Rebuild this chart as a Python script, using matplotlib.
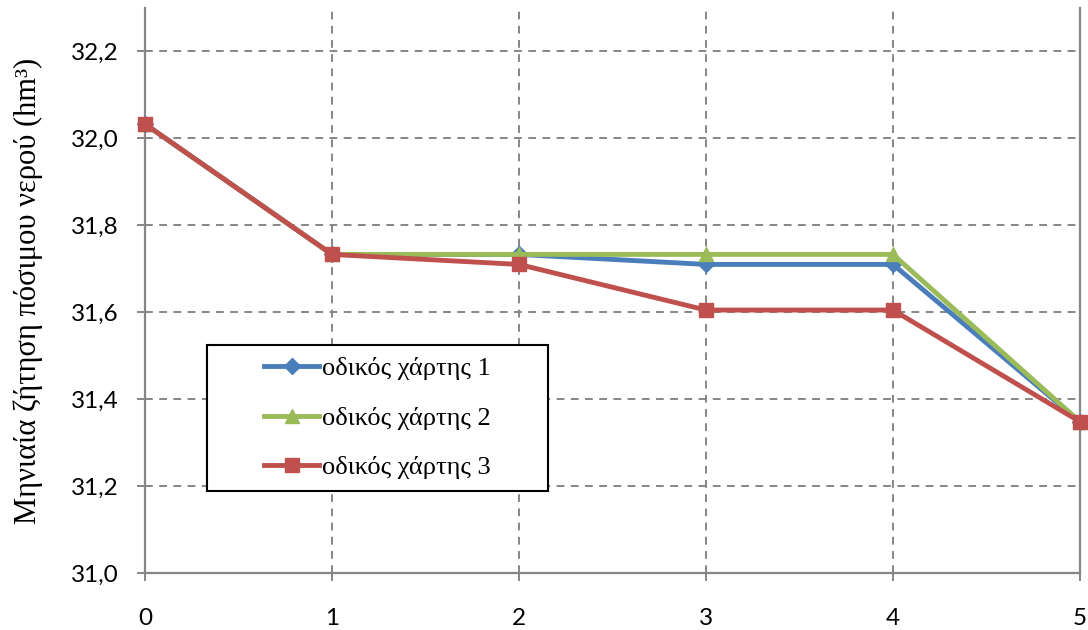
import matplotlib
matplotlib.use("Agg")
import matplotlib.pyplot as plt
from matplotlib.patches import Rectangle

# Data
steps = [0, 1, 2, 3, 4, 5]
series_names = ['οδικός χάρτης 1', 'οδικός χάρτης 2', 'οδικός χάρτης 3']
map1 = [32.033, 31.733, 31.733, 31.710, 31.710, 31.348]
map2 = [32.033, 31.733, 31.733, 31.733, 31.733, 31.348]
map3 = [32.033, 31.733, 31.710, 31.605, 31.605, 31.348]
y_ticks = [31.0, 31.2, 31.4, 31.6, 31.8, 32.0, 32.2]

colors = ['#4A7EBB', '#9BBB59', '#C0504D']
markers = ['D', '^', 's']
msizes = [8.5, 10.5, 10.5]

fig = plt.figure(figsize=(10.88, 6.3), dpi=100)
ax = fig.add_axes([145 / 1088, 1 - 573 / 630, 935 / 1088, 565 / 630])

for vals, name, c, m, ms in zip([map1, map2, map3], series_names, colors, markers, msizes):
    ax.plot(steps, vals, color=c, lw=3.5, marker=m, markersize=ms,
            markeredgecolor=c, label=name, clip_on=False, zorder=3)

ax.set_xlim(0, 5)
ax.set_ylim(31.0, 32.3)
ax.set_xticks(steps)
ax.set_yticks(y_ticks)
ax.set_yticklabels([f'{v:.1f}'.replace('.', ',') for v in y_ticks])

grey = '#868686'
ax.grid(True, color=grey, linestyle=(0, (4, 3.3)), linewidth=1.4, zorder=0)
ax.set_axisbelow(True)

for s in ['left', 'bottom', 'right']:
    ax.spines[s].set_color(grey)
    ax.spines[s].set_linewidth(1.6)
ax.spines['top'].set_visible(False)

ax.tick_params(axis='both', color=grey, width=1.4, length=6, direction='out',
               labelsize=17.5, labelcolor='black')
ax.tick_params(axis='x', pad=19)
ax.tick_params(axis='y', pad=13)
for lab in ax.get_xticklabels() + ax.get_yticklabels():
    lab.set_fontfamily(['Lato', 'DejaVu Sans'])

ax.set_ylabel('Μηνιαία ζήτηση πόσιμου νερού (hm³)', fontsize=22,
              fontfamily=['Liberation Serif', 'DejaVu Serif'], labelpad=20)

# legend box (Excel style: wide side padding)
bx, by, bw, bh = 0.0663, 0.1451, 0.3647, 0.2584
ax.add_patch(Rectangle((bx, by), bw, bh, transform=ax.transAxes, facecolor='white',
                       edgecolor='black', linewidth=1.5, zorder=4, clip_on=False))
leg = ax.legend(loc='center', bbox_to_anchor=(bx + bw / 2, by + bh / 2),
                prop={'family': ['Liberation Serif', 'DejaVu Serif'], 'size': 19},
                frameon=False, handlelength=2.1, handletextpad=0.12,
                labelspacing=0.98, borderpad=0, borderaxespad=0)
leg.set_zorder(5)

fig.savefig('out.png', dpi=100)
